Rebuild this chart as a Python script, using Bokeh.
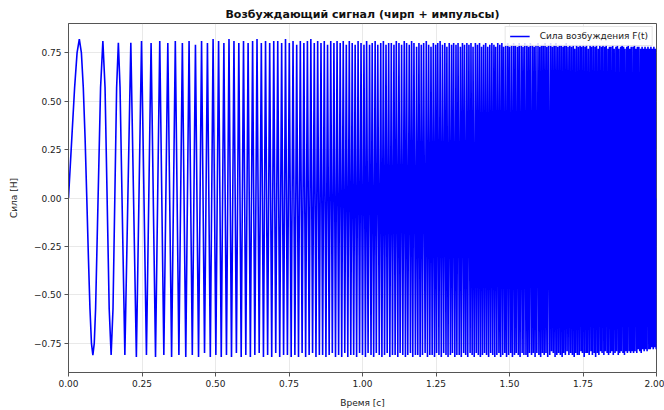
from bokeh.plotting import figure
from bokeh.models import Range1d, FixedTicker
from bokeh.embed import file_html
from bokeh.resources import INLINE

# ---- data ----
title_text = "Возбуждающий сигнал (чирп + импульсы)"
x_label = "Время [с]"
y_label = "Сила [Н]"
series_label = "Сила возбуждения F(t)"

x_ticks = [0.0, 0.25, 0.5, 0.75, 1.0, 1.25, 1.5, 1.75, 2.0]
x_tick_labels = ["0.00", "0.25", "0.50", "0.75", "1.00", "1.25", "1.50", "1.75", "2.00"]
y_ticks = [-0.75, -0.5, -0.25, 0.0, 0.25, 0.5, 0.75]
y_tick_labels = ["\u22120.75", "\u22120.50", "\u22120.25", "0.00", "0.25", "0.50", "0.75"]

# first cycles (time in ms, force in N)
early_time_ms = [0, 11.3, 20.8, 29.2, 36.8, 43.8, 50.3, 56.4, 62.2, 67.8, 73.0, 78.1,
                 82.9, 87.6, 92.2, 109.1, 116.9, 124.3, 138.4, 145.0, 151.4, 163.7,
                 169.6, 175.3]
early_force = [0.0, 0.31, 0.57, 0.75, 0.82, 0.75, 0.57, 0.31, 0.0, -0.31, -0.57, -0.75,
               -0.81, -0.75, -0.57, 0.57, 0.81, 0.57, -0.57, -0.81, -0.57, 0.57,
               0.80, 0.57]

# later turning points (peaks / troughs) of the chirp, time in ms
extremum_time_ms = [
    191.7, 212.0, 230.8, 248.4, 265.1,
    280.9, 296.0, 310.4, 324.3, 337.8, 350.7, 363.3, 375.5, 387.3, 398.9,
    410.1, 421.1, 431.8, 442.3, 452.6, 462.7, 472.6, 482.3, 491.8, 501.2,
    510.5, 519.6, 528.5, 537.3, 545.9, 554.4, 562.8, 571.1, 579.3, 587.4,
    595.3, 603.1, 610.9, 618.6, 626.2, 633.8, 641.2, 648.6, 655.9, 663.1,
    670.2, 677.3, 684.3, 691.2, 698.1, 704.9, 711.7, 718.4, 725.0, 731.6,
    738.1, 744.6, 751.0, 757.4, 763.7, 770.0, 776.2, 782.3, 788.5, 794.6,
    800.6, 806.6, 812.6, 818.5, 824.3, 830.2, 836.0, 841.7, 847.5, 853.2,
    858.8, 864.4, 870.0, 875.6, 881.1, 886.6, 892.0, 897.4, 902.8, 908.2,
    913.5, 918.8, 924.1, 929.3, 934.5, 939.7, 944.9, 950.0, 955.1, 960.2,
    965, 970, 975, 980, 985, 990, 995, 1000, 1005, 1010,
    1014, 1019, 1024, 1029, 1033, 1038, 1043, 1047, 1052, 1057,
    1062, 1066, 1071, 1075, 1080, 1084, 1089, 1093, 1098, 1102,
    1107, 1111, 1115, 1120, 1124, 1128, 1133, 1137, 1142, 1146,
    1150, 1154, 1159, 1163, 1167, 1171, 1175, 1180, 1184, 1188,
    1192, 1196, 1200, 1204, 1208, 1213, 1217, 1221, 1225, 1229,
    1233, 1237, 1241, 1245, 1249, 1252, 1256, 1260, 1264, 1268,
    1272, 1276, 1280, 1284, 1287, 1291, 1295, 1299, 1303, 1306,
    1310, 1314, 1318, 1321, 1325, 1329, 1333, 1336, 1340, 1344,
    1347, 1351, 1355, 1358, 1362, 1366, 1369, 1373, 1376, 1380,
    1384, 1387, 1391, 1394, 1398, 1401, 1405, 1408, 1412, 1415,
    1419, 1422, 1426, 1429, 1433, 1436, 1440, 1443, 1447, 1450,
    1453, 1457, 1460, 1464, 1467, 1470, 1474, 1477, 1480, 1484,
    1487, 1490, 1494, 1497, 1500, 1504, 1507, 1510, 1514, 1517,
    1520, 1523, 1527, 1530, 1533, 1536, 1540, 1543, 1546, 1549,
    1552, 1556, 1559, 1562, 1565, 1568, 1571, 1575, 1578, 1581,
    1584, 1587, 1590, 1593, 1597, 1600, 1603, 1606, 1609, 1612,
    1615, 1618, 1621, 1624, 1627, 1630, 1633, 1637, 1640, 1643,
    1646, 1649, 1652, 1655, 1658, 1661, 1664, 1667, 1670, 1673,
    1676, 1679, 1682, 1684, 1687, 1690, 1693, 1696, 1699, 1702,
    1705, 1708, 1711, 1714, 1717, 1720, 1722, 1725, 1728, 1731,
    1734, 1737, 1740, 1743, 1745, 1748, 1751, 1754, 1757, 1760,
    1762, 1765, 1768, 1771, 1774, 1777, 1779, 1782, 1785, 1788,
    1791, 1793, 1796, 1799, 1802, 1804, 1807, 1810, 1813, 1815,
    1818, 1821, 1824, 1826, 1829, 1832, 1835, 1837, 1840, 1843,
    1845, 1848, 1851, 1853, 1856, 1859, 1862, 1864, 1867, 1870,
    1872, 1875, 1878, 1880, 1883, 1886, 1888, 1891, 1893, 1896,
    1899, 1901, 1904, 1907, 1909, 1912, 1914, 1917, 1920, 1922,
    1925, 1927, 1930, 1933, 1935, 1938, 1940, 1943, 1946, 1948,
    1951, 1953, 1956, 1958, 1961, 1963, 1966, 1968, 1971, 1974,
    1976, 1979, 1981, 1984, 1986, 1989, 1991, 1994, 1996, 1999,
]
extremum_force = [
    -0.81, 0.80, -0.82, 0.81, -0.81,
    0.80, -0.82, 0.81, -0.81, 0.80, -0.82, 0.81, -0.81, 0.80, -0.82,
    0.81, -0.81, 0.79, -0.82, 0.81, -0.80, 0.80, -0.82, 0.82, -0.81,
    0.81, -0.82, 0.80, -0.81, 0.82, -0.82, 0.81, -0.80, 0.80, -0.82,
    0.81, -0.81, 0.80, -0.82, 0.81, -0.81, 0.82, -0.80, 0.80, -0.82,
    0.81, -0.81, 0.80, -0.82, 0.81, -0.80, 0.81, -0.82, 0.80, -0.81,
    0.82, -0.81, 0.80, -0.82, 0.81, -0.81, 0.79, -0.82, 0.81, -0.80,
    0.80, -0.82, 0.81, -0.81, 0.82, -0.80, 0.80, -0.82, 0.81, -0.81,
    0.80, -0.81, 0.81, -0.82, 0.79, -0.81, 0.81, -0.80, 0.80, -0.82,
    0.81, -0.81, 0.80, -0.82, 0.81, -0.80, 0.79, -0.82, 0.81, -0.81,
    0.80, -0.81, 0.79, -0.82, 0.81, -0.80, 0.80, -0.81, 0.79, -0.82,
    0.81, -0.80, 0.79, -0.81, 0.80, -0.82, 0.81, -0.80, 0.79, -0.81,
    0.80, -0.82, 0.81, -0.81, 0.79, -0.80, 0.80, -0.82, 0.80, -0.81,
    0.79, -0.81, 0.81, -0.82, 0.80, -0.80, 0.79, -0.81, 0.81, -0.82,
    0.80, -0.81, 0.79, -0.80, 0.81, -0.82, 0.80, -0.81, 0.78, -0.81,
    0.80, -0.82, 0.79, -0.81, 0.80, -0.80, 0.81, -0.82, 0.79, -0.81,
    0.78, -0.81, 0.80, -0.82, 0.79, -0.80, 0.80, -0.81, 0.81, -0.82,
    0.79, -0.80, 0.80, -0.81, 0.78, -0.82, 0.80, -0.81, 0.79, -0.80,
    0.80, -0.82, 0.79, -0.81, 0.80, -0.81, 0.78, -0.82, 0.80, -0.80,
    0.79, -0.81, 0.80, -0.82, 0.79, -0.80, 0.80, -0.81, 0.78, -0.82,
    0.80, -0.80, 0.79, -0.81, 0.80, -0.82, 0.78, -0.81, 0.79, -0.80,
    0.80, -0.81, 0.78, -0.82, 0.79, -0.80, 0.80, -0.81, 0.79, -0.82,
    0.78, -0.81, 0.80, -0.80, 0.79, -0.82, 0.80, -0.81, 0.78, -0.80,
    0.79, -0.82, 0.80, -0.81, 0.78, -0.80, 0.79, -0.82, 0.80, -0.81,
    0.79, -0.80, 0.78, -0.81, 0.80, -0.82, 0.79, -0.80, 0.78, -0.81,
    0.80, -0.81, 0.79, -0.82, 0.78, -0.80, 0.80, -0.81, 0.79, -0.80,
    0.78, -0.82, 0.79, -0.80, 0.80, -0.81, 0.78, -0.82, 0.79, -0.80,
    0.79, -0.81, 0.80, -0.80, 0.78, -0.82, 0.79, -0.81, 0.80, -0.79,
    0.78, -0.80, 0.79, -0.82, 0.80, -0.81, 0.78, -0.80, 0.79, -0.81,
    0.79, -0.82, 0.78, -0.80, 0.79, -0.81, 0.80, -0.79, 0.78, -0.81,
    0.79, -0.80, 0.78, -0.81, 0.79, -0.82, 0.77, -0.80, 0.79, -0.81,
    0.78, -0.81, 0.79, -0.79, 0.78, -0.80, 0.79, -0.82, 0.78, -0.80,
    0.79, -0.80, 0.77, -0.81, 0.79, -0.79, 0.78, -0.81, 0.79, -0.80,
    0.78, -0.82, 0.79, -0.80, 0.77, -0.81, 0.79, -0.79, 0.78, -0.80,
    0.79, -0.81, 0.78, -0.79, 0.79, -0.80, 0.77, -0.81, 0.78, -0.80,
    0.78, -0.79, 0.79, -0.81, 0.77, -0.80, 0.78, -0.79, 0.79, -0.81,
    0.77, -0.80, 0.78, -0.79, 0.79, -0.80, 0.78, -0.81, 0.77, -0.79,
    0.78, -0.80, 0.79, -0.79, 0.77, -0.80, 0.78, -0.79, 0.78, -0.80,
    0.79, -0.79, 0.77, -0.80, 0.78, -0.78, 0.78, -0.79, 0.77, -0.80,
    0.78, -0.78, 0.77, -0.79, 0.78, -0.78, 0.77, -0.79, 0.78, -0.78,
    0.77, -0.78, 0.78, -0.77, 0.77, -0.78, 0.78, -0.77, 0.77, -0.78,
]
end_time_ms = [2000]
end_force = [0.0]

# ---- assemble series ----
n = min(len(extremum_time_ms), len(extremum_force))
time_s = [t / 1000.0 for t in early_time_ms + extremum_time_ms[:n] + end_time_ms]
force = early_force + extremum_force[:n] + end_force

FONT = "DejaVu Sans"

p = figure(width=664, height=410,
           x_range=Range1d(0.0, 2.0), y_range=Range1d(-0.9, 0.9),
           output_backend="svg", toolbar_location=None,
           min_border_left=68, min_border_right=8,
           min_border_top=23, min_border_bottom=37)

p.title.text = title_text
p.title.text_font = FONT
p.title.text_font_size = "11px"
p.title.text_font_style = "bold"
p.title.align = "center"
p.title.text_color = "#111111"
p.title.standoff = 5

p.line(time_s, force, line_color="#0000ff", line_width=1.6, legend_label=series_label)

p.xaxis.ticker = FixedTicker(ticks=x_ticks)
p.xaxis.major_label_overrides = {t: l for t, l in zip(x_ticks, x_tick_labels)}
p.yaxis.ticker = FixedTicker(ticks=y_ticks)
p.yaxis.major_label_overrides = {t: l for t, l in zip(y_ticks, y_tick_labels)}

p.xaxis.axis_label = x_label
p.yaxis.axis_label = y_label

for ax in (p.xaxis[0], p.yaxis[0]):
    ax.axis_label_text_font = FONT
    ax.axis_label_text_font_size = "9px"
    ax.axis_label_text_font_style = "normal"
    ax.axis_label_text_color = "#222222"
    ax.major_label_text_font = FONT
    ax.major_label_text_font_size = "9px"
    ax.major_label_text_color = "#222222"
    ax.major_tick_in = 0
    ax.major_tick_out = 4
    ax.major_label_standoff = 3
    ax.minor_tick_line_color = None
    ax.axis_line_color = "#555555"
    ax.major_tick_line_color = "#555555"

p.xaxis.axis_label_standoff = 8
p.yaxis.axis_label_standoff = 12

p.outline_line_color = "#555555"
p.outline_line_width = 1

p.xgrid.grid_line_color = "#b0b0b0"
p.ygrid.grid_line_color = "#b0b0b0"
p.xgrid.grid_line_alpha = 0.35
p.ygrid.grid_line_alpha = 0.35
p.xgrid.grid_line_width = 0.8
p.ygrid.grid_line_width = 0.8

p.legend.location = "top_right"
p.legend.label_text_font = FONT
p.legend.label_text_font_size = "9px"
p.legend.label_text_color = "#222222"
p.legend.border_line_color = "#cccccc"
p.legend.background_fill_alpha = 0.85
p.legend.padding = 4
p.legend.spacing = 0
p.legend.margin = 3
p.legend.glyph_width = 20
p.legend.glyph_height = 10
p.legend.label_height = 10
p.legend.label_standoff = 10

open("out.html", "w").write(file_html(p, INLINE))
